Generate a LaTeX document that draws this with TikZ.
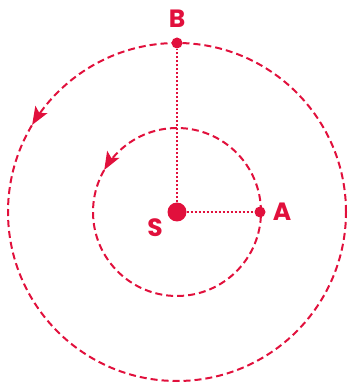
\documentclass[tikz,border=0pt]{standalone}
\usepackage{fontspec}
\setmainfont{Poppins}
\usetikzlibrary{arrows.meta,positioning}
\definecolor{orbitred}{RGB}{225,16,60}
\tikzset{
    x=1pt, y=1pt,
    orbit/.style={orbitred, line width=2pt, dash pattern=on 7pt off 4pt},
    radiusline/.style={orbitred, line width=2pt, dash pattern=on 2pt off 2pt},
    planet/.style={circle, fill=orbitred, inner sep=0pt, minimum size=11pt},
    sun/.style={circle, fill=orbitred, inner sep=0pt, minimum size=19pt},
    lbl/.style={text=orbitred, font=\fontsize{25}{30}\selectfont\bfseries, inner sep=0pt},
    dirarrow/.style={orbitred, line width=2pt, -{Stealth[length=18pt,width=14pt,inset=4pt]}}
}
\begin{document}
\begin{tikzpicture}
  \useasboundingbox (0,0) rectangle (349,383);

  % orbits
  \coordinate (O) at (177,171);
  \draw[orbit] (O) circle[radius=169];
  \draw[orbit] (O) circle[radius=84];
  \draw[dirarrow] ([shift={(144:169)}]O) arc[start angle=144, end angle=149, radius=169];
  \draw[dirarrow] ([shift={(142:84)}]O) arc[start angle=142, end angle=150, radius=84];

  % bodies
  \node[sun]    (S) at (O) {};
  \node[planet] (A) at (260,171) {};
  \node[planet] (B) at (177,340) {};

  \draw[radiusline] (S) -- (A);
  \draw[radiusline] (S) -- (B);

  % labels
  \node[lbl, above=10pt of B]  (Blbl) {B};
  \node[lbl, right=7pt of A]   (Albl) {A};
  \node[lbl] (Slbl) at (155,155) {S};
\end{tikzpicture}
\end{document}
